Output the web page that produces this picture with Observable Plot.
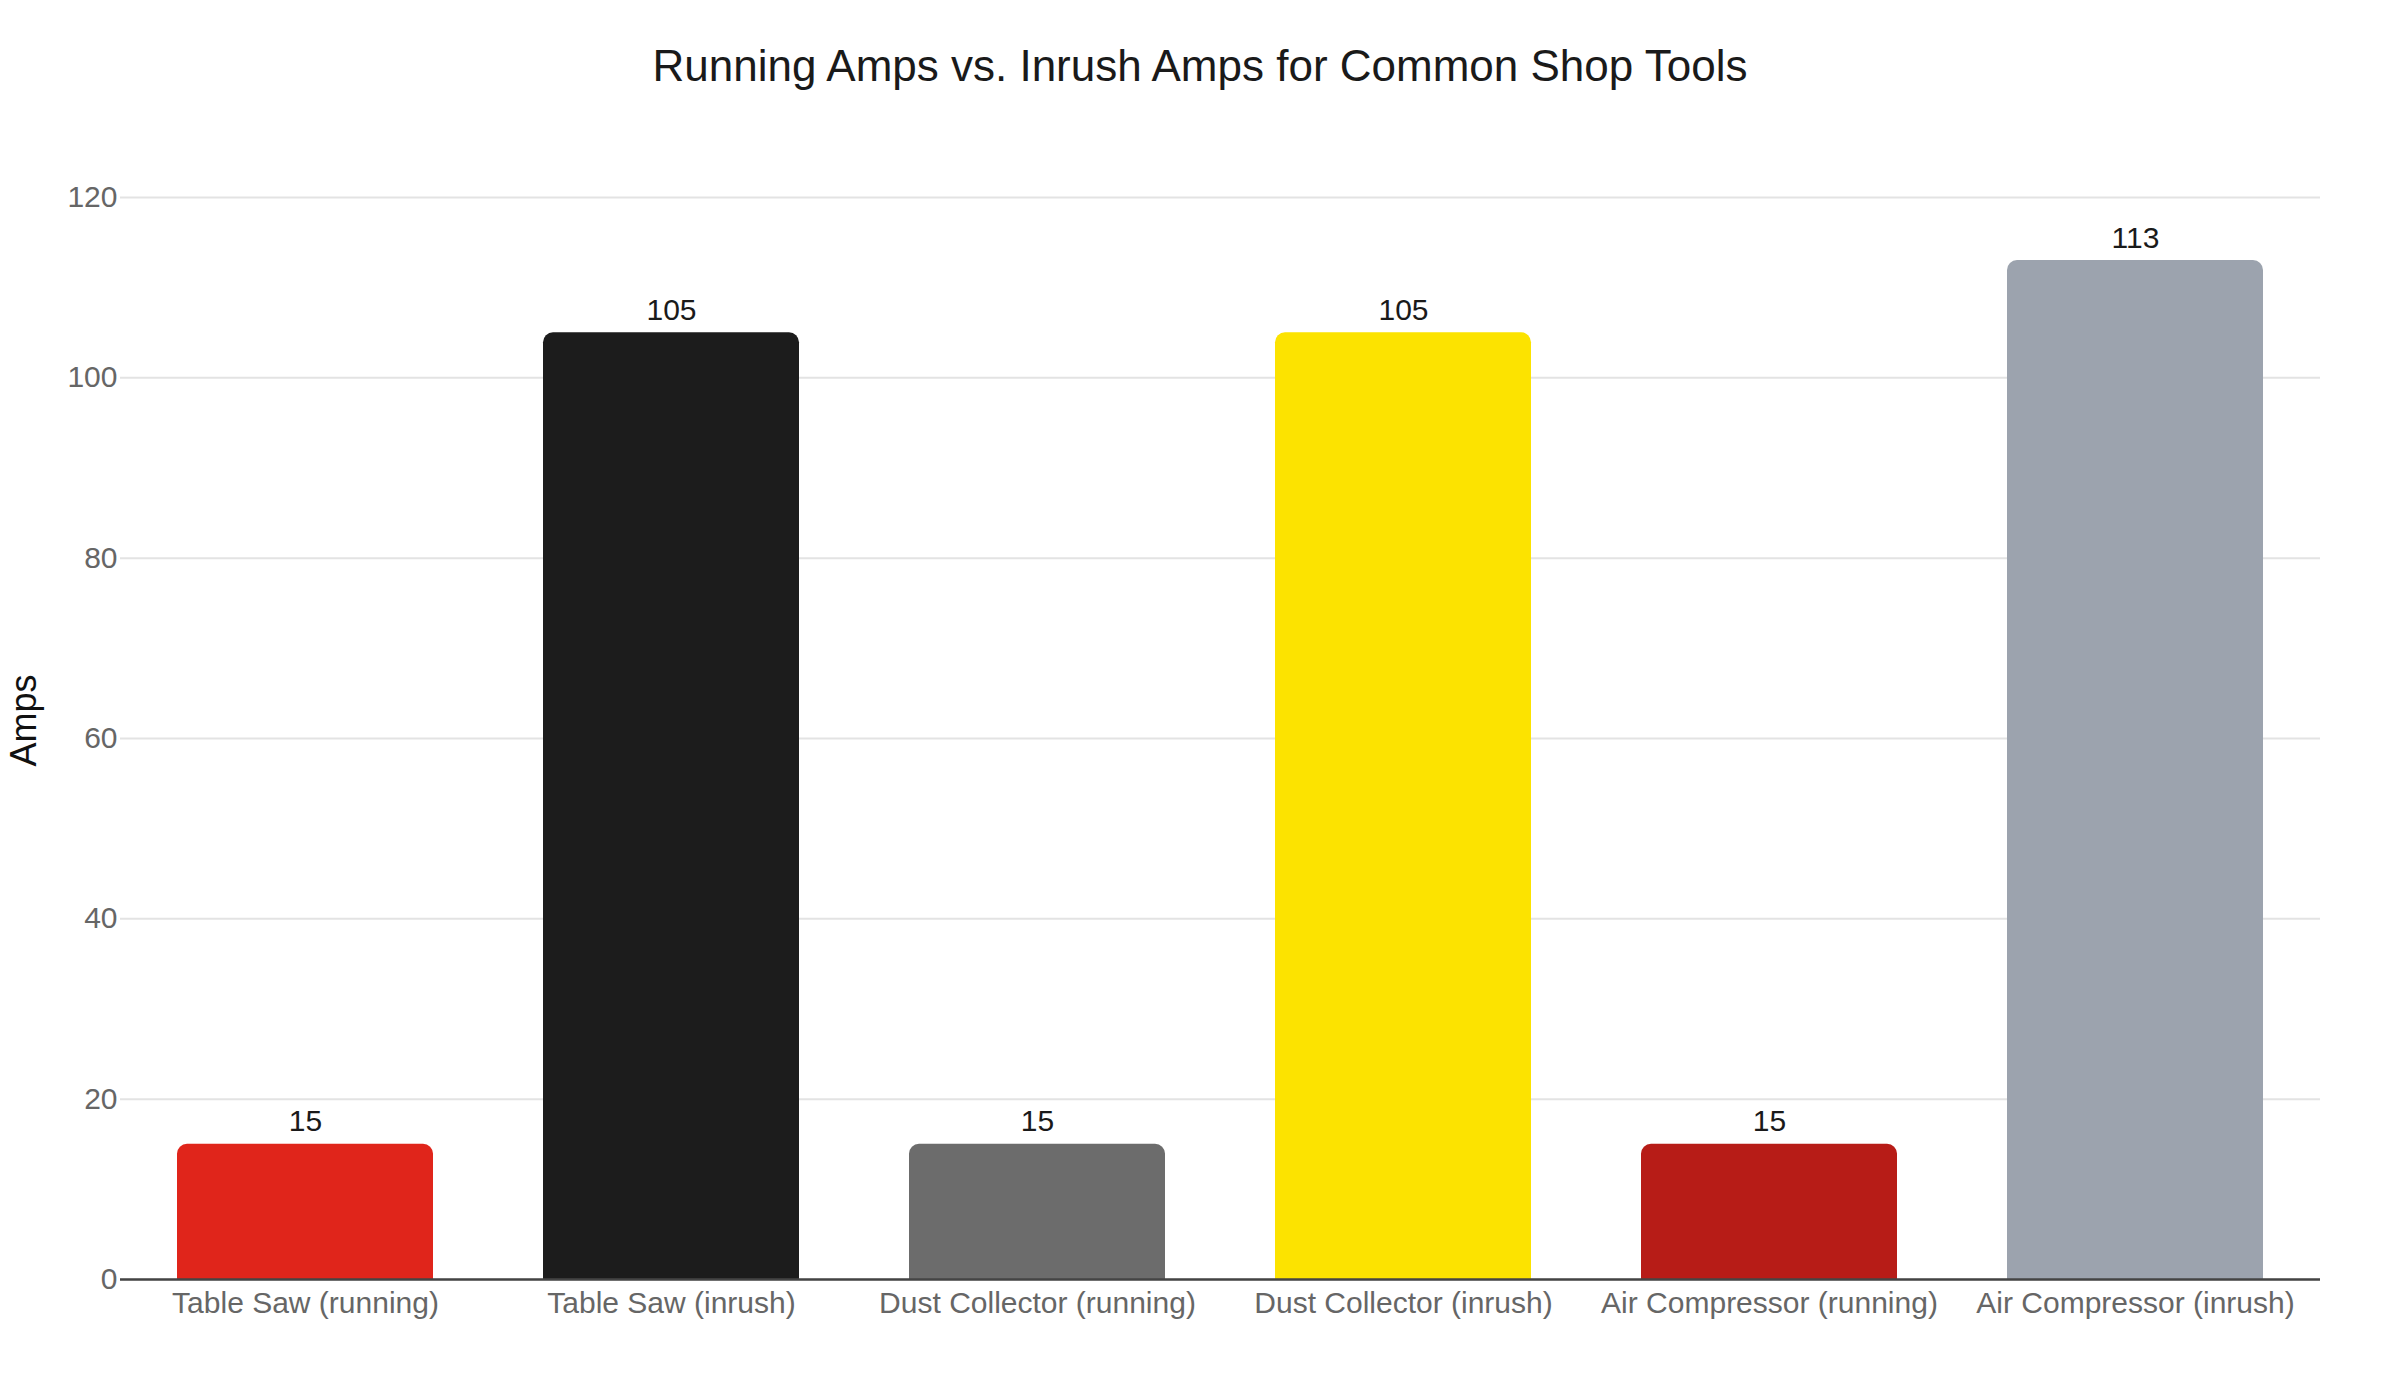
<!DOCTYPE html>
<html>
<head>
<meta charset="utf-8">
<script src="https://cdn.jsdelivr.net/npm/d3@7"></script>
<script src="https://cdn.jsdelivr.net/npm/@observablehq/plot@0.6"></script>
<style>
  html, body { margin: 0; padding: 0; background: #fff; }
  body { width: 2400px; height: 1400px; overflow: hidden; font-family: "Liberation Sans", Arial, Helvetica, sans-serif; }
  #title { box-sizing: border-box; height: 100px; padding-top: 44px; line-height: 44px; font-size: 44px; text-align: center; color: #1a1a1a; white-space: nowrap; }
</style>
</head>
<body>
<div id="title">Running Amps vs. Inrush Amps for Common Shop Tools</div>
<div id="chart"></div>
<script>
const categories = [
  "Table Saw (running)",
  "Table Saw (inrush)",
  "Dust Collector (running)",
  "Dust Collector (inrush)",
  "Air Compressor (running)",
  "Air Compressor (inrush)"
];
const amps = [15, 105, 15, 105, 15, 113];
const barColors = ["#e0251b", "#1c1c1c", "#6c6c6c", "#fce300", "#b71c17", "#9ca3ae"];
const yTicks = [0, 20, 40, 60, 80, 100, 120];
const yLabel = "Amps";

const data = categories.map((c, i) => ({category: c, amps: amps[i]}));

const chart = Plot.plot({
  width: 2400,
  height: 1300,
  marginTop: 97,
  marginBottom: 121,
  marginLeft: 120,
  marginRight: 80,
  style: {fontFamily: '"Liberation Sans", Arial, Helvetica, sans-serif', background: "#fff"},
  x: {type: "band", domain: categories, paddingInner: 0.3, paddingOuter: 0.15, align: 0.5},
  y: {domain: [0, 120]},
  color: {domain: categories, range: barColors},
  marks: [
    Plot.gridY(yTicks, {stroke: "#e3e3e3", strokeOpacity: 1, strokeWidth: 2}),
    Plot.barY(data, {x: "category", y: "amps", fill: "category", ry1: 10}),
    Plot.ruleY([0], {stroke: "#444", strokeWidth: 2.5}),
    Plot.text(data, {x: "category", y: "amps", text: d => String(d.amps), lineAnchor: "bottom", dy: -13, fontSize: 30, fill: "#1a1a1a"}),
    Plot.axisY(yTicks, {tickSize: 0, tickPadding: 3, fontSize: 30, color: "#666", label: null}),
    Plot.axisX({tickSize: 0, tickPadding: 12, fontSize: 30, color: "#666", label: null}),
    Plot.text([yLabel], {frameAnchor: "left", rotate: -90, textAnchor: "middle", lineAnchor: "bottom", dx: -85, dy: -18, fontSize: 36, fill: "#111"})
  ]
});
document.getElementById("chart").appendChild(chart);
</script>
</body>
</html>
